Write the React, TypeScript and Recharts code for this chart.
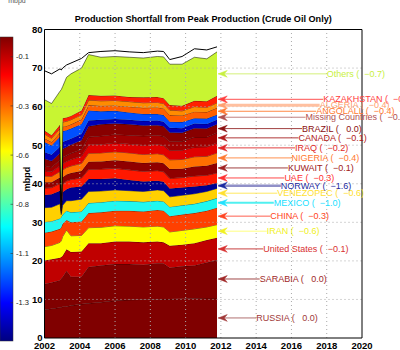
import { Area, ComposedChart, Line, ReferenceDot, ReferenceLine, XAxis, YAxis } from "recharts";

const FONT = '"Liberation Sans", Arial, Helvetica, sans-serif';

// sample dates (decimal years)
const years = [2002.0, 2002.4, 2002.88, 2002.95, 2003.03, 2003.25, 2003.5, 2004.1, 2004.5, 2005.2, 2006.0, 2006.8, 2007.6, 2008.4, 2008.75, 2009.1, 2009.8, 2010.5, 2011.2, 2011.78];

// layer thickness in mbpd, bottom of the stack first
const russia = [7.3, 7.6, 7.9, 8.0, 8.1, 8.2, 8.4, 8.8, 9.0, 9.3, 9.7, 9.9, 10.0, 10.0, 10.1, 10.1, 10.2, 10.3, 10.4, 10.4];
const sarabia = [6.7, 6.8, 7.1, 7.4, 7.7, 9.2, 7.5, 7.1, 9.4, 9.5, 9.5, 9.3, 9.0, 9.4, 9.2, 8.1, 8.4, 8.5, 9.2, 9.8];
const unitedStates = [6.1, 6.0, 5.8, 5.6, 5.5, 5.6, 6.4, 6.5, 6.2, 5.8, 5.8, 5.8, 5.8, 5.6, 5.5, 5.7, 5.6, 5.8, 5.8, 5.8];
const iran = [3.6, 3.6, 4.0, 4.2, 5.0, 5.0, 4.2, 4.2, 4.0, 4.1, 4.1, 4.0, 4.0, 4.0, 4.0, 3.6, 3.7, 3.7, 3.4, 3.4];
const china = [3.6, 3.6, 3.5, 3.5, 3.3, 2.6, 3.5, 3.6, 3.8, 3.9, 3.9, 4.0, 4.0, 4.2, 4.2, 4.1, 4.1, 4.1, 4.2, 4.4];
const mexico = [2.8, 2.7, 2.7, 2.7, 2.4, 2.4, 2.6, 2.6, 2.6, 2.6, 2.6, 2.5, 2.5, 2.4, 2.4, 2.4, 2.4, 2.4, 2.5, 2.5];
const venezopec = [3.7, 3.6, 3.8, 0.6, 2.4, 2.6, 3.0, 3.2, 3.0, 2.9, 2.8, 2.7, 2.7, 2.8, 2.8, 2.6, 2.6, 2.6, 2.5, 2.5];
const norway = [3.3, 3.4, 3.4, 0.5, 3.4, 3.0, 3.4, 3.3, 3.2, 3.1, 3.0, 2.8, 2.6, 2.4, 2.3, 2.2, 2.0, 1.9, 1.6, 1.4];
const uae = [1.8, 1.7, 1.9, 0.4, 2.1, 2.1, 2.1, 2.2, 2.5, 2.6, 2.6, 2.6, 2.6, 2.6, 2.6, 2.6, 2.6, 2.7, 2.6, 2.6];
const kuwait = [1.5, 1.4, 1.5, 0.4, 1.8, 1.7, 1.7, 1.8, 2.0, 2.0, 2.1, 2.2, 2.2, 2.2, 2.2, 2.4, 2.3, 2.5, 2.5, 2.6];
const nigeria = [1.6, 1.5, 1.6, 0.4, 1.9, 1.8, 1.8, 2.0, 2.2, 2.2, 2.2, 2.2, 2.2, 2.2, 2.2, 2.4, 2.4, 2.5, 2.4, 2.6];
const iraq = [1.4, 1.2, 1.5, 0.4, 1.6, 1.6, 1.7, 1.9, 2.2, 2.2, 2.3, 2.3, 2.4, 2.4, 2.4, 2.4, 2.4, 2.5, 2.5, 2.6];
const canada = [1.3, 1.2, 1.4, 0.4, 1.6, 1.5, 1.6, 1.7, 2.0, 2.2, 2.2, 2.3, 2.4, 2.4, 2.4, 2.3, 2.3, 2.6, 2.5, 2.6];
const brazil = [1.8, 1.6, 1.8, 0.8, 2.2, 2.2, 2.2, 2.4, 2.8, 3.0, 2.8, 2.8, 2.7, 2.6, 2.6, 2.4, 2.2, 2.3, 2.2, 2.2];
const unlabelled = [1.7, 1.6, 1.7, 0.4, 1.8, 1.7, 1.6, 1.6, 1.5, 1.2, 1.2, 1.2, 1.2, 1.2, 1.2, 1.2, 1.2, 1.2, 1.2, 1.2];
const missing = [2.6, 2.4, 2.6, 0.4, 2.8, 2.7, 2.6, 2.6, 2.6, 2.2, 2.1, 1.9, 1.8, 1.7, 1.7, 1.6, 1.6, 1.4, 1.4, 1.3];
const angolall = [1.0, 0.9, 1.0, 0.4, 1.2, 1.1, 1.1, 1.2, 1.4, 1.4, 1.4, 1.5, 1.6, 1.7, 1.7, 1.7, 1.7, 1.7, 1.7, 1.8];
const algeria = [1.1, 1.0, 1.1, 0.4, 1.2, 1.2, 1.2, 1.2, 1.3, 1.3, 1.3, 1.3, 1.3, 1.3, 1.3, 1.3, 1.2, 1.3, 1.2, 1.3];
const kazakhstan = [0.9, 0.8, 1.0, 0.4, 1.0, 1.0, 1.0, 1.1, 1.3, 1.3, 1.3, 1.2, 1.4, 1.4, 1.4, 1.3, 1.3, 1.5, 1.6, 1.8];
const others = [8.0, 8.2, 8.7, 27.1, 8.2, 10.4, 10.9, 11.0, 10.5, 10.0, 10.1, 10.3, 10.2, 10.5, 10.7, 10.6, 10.8, 11.3, 11.0, 11.4];

// upper black line above the stack
const peakLine = [69.3, 68.5, 69.8, 69.5, 70.0, 70.8, 71.3, 72.5, 74.0, 74.3, 74.5, 74.2, 74.0, 74.4, 74.3, 72.2, 73.0, 75.0, 74.7, 75.5];

const countryNames = ["RUSSIA", "SARABIA", "United States", "IRAN", "CHINA", "MEXICO", "VENEZOPEC", "NORWAY", "UAE", "KUWAIT", "NIGERIA", "IRAQ", "CANADA", "BRAZIL", "", "Missing Countries", "ANGOLALL", "ALGERIA", "KAZAKHSTAN", "Others"];
const declineRates = [0.0, 0.0, -0.1, -0.6, -0.3, -1.0, -0.6, -1.6, -0.3, -0.1, -0.4, -0.2, -0.1, 0.0, 0, -0.3, -0.4, -0.4, -0.2, -0.7];
const layerValues = [russia, sarabia, unitedStates, iran, china, mexico, venezopec, norway, uae, kuwait, nigeria, iraq, canada, brazil, unlabelled, missing, angolall, algeria, kazakhstan, others];

const xTicks = [2002, 2004, 2006, 2008, 2010, 2012, 2014, 2016, 2018, 2020];
const yTicks = [0, 10, 20, 30, 40, 50, 60, 70, 80];
const colorbarLabels = ["-0.1", "-0.3", "-0.6", "-0.8", "-1.1", "-1.3"];

// per-layer look: area fill, label text, leader line colour/width, label slot
const styles = [
  { fill: "#800000", text: "#a03838", line: "#b07070", lw: 1, slot: 0 },
  { fill: "#800000", text: "#a02828", line: "#a04848", lw: 1, slot: 1 },
  { fill: "#c00000", text: "#d83030", line: "#c84040", lw: 1, slot: 2 },
  { fill: "#ffff00", text: "#f0f020", line: "#ffff80", lw: 1, slot: 3 },
  { fill: "#ff4000", text: "#ff4422", line: "#ff6050", lw: 1, slot: 4 },
  { fill: "#20f8f0", text: "#20e0ff", line: "#50f0f0", lw: 2, slot: 5 },
  { fill: "#ffd000", text: "#ffe030", line: "#ffe860", lw: 1, slot: 6 },
  { fill: "#000090", text: "#1c2aa0", line: "#9090c8", lw: 2.5, slot: 7 },
  { fill: "#ff1800", text: "#ff3030", line: "#ff4a4a", lw: 1, slot: 8 },
  { fill: "#900000", text: "#a02020", line: "#a04040", lw: 1, slot: 9 },
  { fill: "#ff7000", text: "#ff7830", line: "#ff9050", lw: 1, slot: 10 },
  { fill: "#e00000", text: "#e02828", line: "#e04040", lw: 1, slot: 11 },
  { fill: "#a00000", text: "#b01818", line: "#b03838", lw: 1, slot: 12 },
  { fill: "#880000", text: "#8b1010", line: "#a04040", lw: 1, slot: 13 },
  { fill: "#0000b8", text: "", line: "", lw: 0, slot: -1 },
  { fill: "#0050ff", text: "#b05050", line: "#c08080", lw: 1, slot: 14 },
  { fill: "#ff6000", text: "#ff7a30", line: "#ff8844", lw: 1, slot: 17 },
  { fill: "#ff8c00", text: "#ffa070", line: "#ffc0a0", lw: 3, slot: 18 },
  { fill: "#ff2000", text: "#ff3c3c", line: "#ff5050", lw: 1, slot: 19 },
  { fill: "#c8f532", text: "#c8f040", line: "#d4f07a", lw: 1, slot: 20 },
];

const keys = layerValues.map((_, i) => `l${i}`);

const rows = years.map((year, i) => {
  const row: Record<string, number> = { year, peak: peakLine[i] };
  layerValues.forEach((v, j) => (row[keys[j]] = v[i]));
  return row;
});

// middle of each layer at the last sample, where the arrows point
let cum = 0;
const mids = layerValues.map((v) => {
  const last = v[v.length - 1];
  const m = cum + last / 2;
  cum += last;
  return m;
});

const tipYear = 2011.85;

function labelText(i: number) {
  const r = declineRates[i].toFixed(1).replace("-", "−");
  return `${countryNames[i]} (${r.padStart(6)})`;
}

const XTick = (p: any) => (
  <text x={p.x} y={p.y + 10.5} textAnchor="middle" fontSize={9.5} fontWeight="bold" fontFamily={FONT} fill="#000">
    {p.payload.value}
  </text>
);

const YTick = (p: any) => (
  <text x={p.x - 2} y={p.y + 3.4} textAnchor="end" fontSize={9.5} fontWeight="bold" fontFamily={FONT} fill="#000">
    {p.payload.value}
  </text>
);

export default function App() {
  const cbTop = 37;
  const cbBottom = 341;
  return (
    <div style={{ position: "absolute", left: 0, top: 0, width: 400, height: 350, background: "#fff" }}>
      <ComposedChart width={400} height={350} data={rows} margin={{ top: 29.5, right: 38, bottom: 0, left: 4.5 }}>
        <XAxis
          type="number"
          dataKey="year"
          domain={[2002, 2020]}
          ticks={xTicks}
          interval={0}
          height={12}
          tickSize={0}
          tickMargin={0}
          tickLine={false}
          axisLine={{ stroke: "#000" }}
          tick={XTick}
        />
        <YAxis
          type="number"
          domain={[0, 80]}
          ticks={yTicks}
          interval={0}
          width={40}
          tickSize={0}
          tickMargin={0}
          tickLine={false}
          axisLine={{ stroke: "#000" }}
          tick={YTick}
        />
        {keys.map((k, i) => (
          <Area
            key={k}
            dataKey={k}
            stackId="s"
            type="linear"
            fill={styles[i].fill}
            fillOpacity={1}
            stroke="#000"
            strokeWidth={0.5}
            dot={false}
            activeDot={false}
            isAnimationActive={false}
          />
        ))}
        <Line dataKey="peak" type="linear" stroke="#000" strokeWidth={1} dot={false} activeDot={false} isAnimationActive={false} />
        {xTicks.slice(1, -1).map((t) => (
          <ReferenceLine key={`gx${t}`} x={t} stroke="#aaa" strokeDasharray="1 3" />
        ))}
        {yTicks.slice(1, -1).map((t) => (
          <ReferenceLine key={`gy${t}`} y={t} stroke="#aaa" strokeDasharray="1 3" />
        ))}
        <ReferenceLine y={80} stroke="#000" />
        <ReferenceLine x={2020} stroke="#000" />
        {styles.map((s, i) =>
          s.slot < 0 ? null : (
            <ReferenceLine
              key={`ln${i}`}
              segment={[
                { x: tipYear, y: mids[i] },
                { x: 2014 + 0.2 * s.slot, y: mids[i] },
              ]}
              stroke={s.line}
              strokeWidth={s.lw}
            />
          )
        )}
        {styles.map((s, i) =>
          s.slot < 0 ? null : (
            <ReferenceDot
              key={`ar${i}`}
              x={tipYear}
              y={mids[i]}
              shape={(p: any) => (
                <path
                  d={`M${p.cx},${p.cy} L${p.cx + 9},${p.cy - 3.4} L${p.cx + 6},${p.cy} L${p.cx + 9},${p.cy + 3.4} Z`}
                  fill={s.text}
                  stroke={s.text}
                  strokeWidth={0.5}
                />
              )}
            />
          )
        )}
        {styles.map((s, i) =>
          s.slot < 0 ? null : (
            <ReferenceDot
              key={`tx${i}`}
              x={2014 + 0.2 * s.slot}
              y={mids[i]}
              shape={(p: any) => (
                <text x={p.cx} y={p.cy + 3.2} fontSize={9} fontFamily={FONT} fill={s.text} style={{ whiteSpace: "pre" }}>
                  {labelText(i)}
                </text>
              )}
            />
          )
        )}
      </ComposedChart>
      <svg width={400} height={350} style={{ position: "absolute", left: 0, top: 0, pointerEvents: "none" }}>
        <defs>
          <linearGradient id="jet" x1="0" y1="0" x2="0" y2="1">
            <stop offset="0" stopColor="#800000" />
            <stop offset="0.125" stopColor="#ff0000" />
            <stop offset="0.375" stopColor="#ffff00" />
            <stop offset="0.625" stopColor="#00ffff" />
            <stop offset="0.875" stopColor="#0000ff" />
            <stop offset="1" stopColor="#000080" />
          </linearGradient>
        </defs>
        <text x={17} y={2.5} textAnchor="middle" fontSize={7} fontFamily={FONT} fill="#555">
          mbpd
        </text>
        <rect x={0} y={cbTop} width={13} height={cbBottom - cbTop} fill="url(#jet)" stroke="#333" strokeWidth={0.5} />
        {colorbarLabels.map((l, i) => {
          const y = 56.7 + i * 49.2;
          return (
            <g key={l}>
              <line x1={10.5} x2={13} y1={y} y2={y} stroke="#333" strokeWidth={0.6} />
              <text x={16} y={y + 2.6} fontSize={7.5} fontFamily={FONT} fill="#222">
                {l}
              </text>
            </g>
          );
        })}
        <text
          x={29.8}
          y={179}
          transform="rotate(-90 29.8 179)"
          textAnchor="middle"
          fontSize={9}
          fontWeight="bold"
          fontFamily={FONT}
          fill="#000"
        >
          mbpd
        </text>
        <text
          x={203.3}
          y={22}
          textAnchor="middle"
          fontSize={9.5}
          fontWeight="bold"
          fontFamily={FONT}
          fill="#000"
          textLength={257}
          lengthAdjust="spacingAndGlyphs"
        >
          Production Shortfall from Peak Production (Crude Oil Only)
        </text>
      </svg>
    </div>
  );
}
